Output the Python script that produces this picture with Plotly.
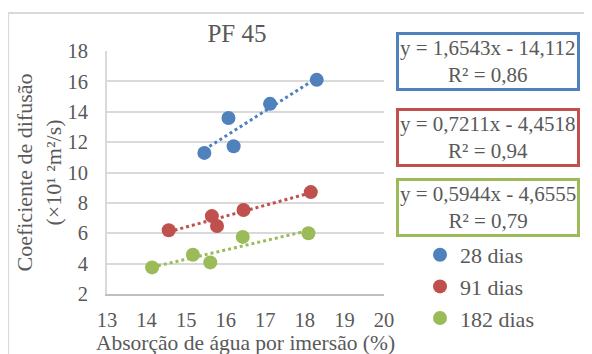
import numpy as np
import plotly.graph_objects as go

# ---- data ----
x_28 = [15.46, 16.07, 16.20, 17.12, 18.30]
y_28 = [11.29, 13.59, 11.73, 14.52, 16.10]
x_91 = [14.56, 15.65, 15.78, 16.45, 18.15]
y_91 = [6.20, 7.13, 6.48, 7.53, 8.71]
x_182 = [14.14, 15.17, 15.61, 16.43, 18.09]
y_182 = [3.75, 4.58, 4.08, 5.76, 6.00]

series_names = ["28 dias", "91 dias", "182 dias"]
equations = ["y = 1,6543x - 14,112<br>R² = 0,86",
             "y = 0,7211x - 4,4518<br>R² = 0,94",
             "y = 0,5944x - 4,6555<br>R² = 0,79"]
x_ticks = [13, 14, 15, 16, 17, 18, 19, 20]
y_ticks = [2, 4, 6, 8, 10, 12, 14, 16, 18]

colors = ["#4F81BD", "#C0504D", "#9BBB59"]
FONT = "Liberation Serif"
TXT = "#595959"

fig = go.Figure()
series = [(x_28, y_28), (x_91, y_91), (x_182, y_182)]

# trend lines (least squares from the data, spanning data range)
for (xs, ys), c in zip(series, colors):
    a, b = np.polyfit(xs, ys, 1)
    xt = np.array([min(xs), max(xs)])
    fig.add_trace(go.Scatter(x=xt, y=a * xt + b, mode="lines",
                             line=dict(color=c, width=3, dash="dot"),
                             showlegend=False, hoverinfo="skip"))

for (xs, ys), c, n in zip(series, colors, series_names):
    fig.add_trace(go.Scatter(x=xs, y=ys, mode="markers", name=n,
                             legendgroup=n,
                             marker=dict(color=c, size=14)))

# equation boxes
eq_y = [0.955, 0.646, 0.358]
for txt, c, yy in zip(equations, colors, eq_y):
    fig.add_annotation(text=txt, xref="paper", yref="paper", x=1.375, y=yy,
                       xanchor="center", yanchor="middle", showarrow=False,
                       font=dict(family=FONT, size=21, color=TXT),
                       bordercolor=c, borderwidth=3, borderpad=1,
                       bgcolor="white", align="center")

# chart outer border (top and left visible)
fig.add_shape(type="line", xref="paper", yref="paper",
              x0=-0.357, x1=1.8, y0=1.156, y1=1.156,
              line=dict(color="#D9D9D9", width=2))
fig.add_shape(type="line", xref="paper", yref="paper",
              x0=-0.357, x1=-0.357, y0=1.156, y1=-0.5,
              line=dict(color="#D9D9D9", width=2))

fig.update_layout(
    width=592, height=354,
    margin=dict(l=99, r=216, t=43, b=68, autoexpand=False),
    paper_bgcolor="white", plot_bgcolor="white",
    font=dict(family=FONT, size=20, color=TXT),
    title=dict(text="PF 45", x=229 / 592, xanchor="center",
               y=1 - 25 / 354, yanchor="middle",
               font=dict(family=FONT, size=25, color=TXT)),
    legend=dict(x=1.13, y=0.247, xanchor="left", yanchor="top",
                font=dict(family=FONT, size=22, color=TXT),
                itemwidth=30, tracegroupgap=0, bgcolor="rgba(0,0,0,0)"),
    xaxis=dict(range=[13, 20], tickvals=x_ticks, showgrid=False,
               zeroline=False, showline=True, linecolor="#BFBFBF", linewidth=2,
               ticks="", ticklabelstandoff=6, automargin=False,
               tickfont=dict(family=FONT, size=20.5, color=TXT),
               title=dict(text="Absorção de água por imersão (%)", standoff=2,
                          font=dict(family=FONT, size=21.5, color=TXT))),
    yaxis=dict(range=[2, 18], tickvals=y_ticks, showgrid=True,
               gridcolor="#D9D9D9", gridwidth=2, zeroline=False,
               showline=True, linecolor="#D9D9D9", linewidth=2,
               ticks="", ticklabelstandoff=13, automargin=False,
               tickfont=dict(family=FONT, size=20.5, color=TXT),
               title=dict(text="Coeficiente de difusão<br>(×10¹ ²m²/s)",
                          standoff=0,
                          font=dict(family=FONT, size=22, color=TXT))),
)

fig.write_html("out.html")
